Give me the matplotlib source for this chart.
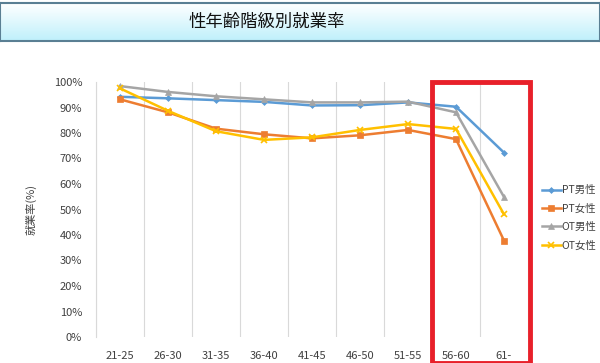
import matplotlib.pyplot as plt
import numpy as np
from matplotlib.patches import Rectangle

plt.rcParams['font.family'] = ['Noto Sans CJK JP', 'DejaVu Sans']

# 年齢階級
ages = ['21-25', '26-30', '31-35', '36-40', '41-45', '46-50', '51-55', '56-60', '61-']
# 就業率 (%)
pt_male = [94.2, 93.6, 92.9, 92.2, 90.8, 90.9, 92.0, 90.3, 72.3]
pt_female = [93.2, 88.1, 81.7, 79.5, 77.9, 79.1, 81.2, 77.6, 37.8]
ot_male = [98.4, 96.1, 94.4, 93.2, 92.0, 92.0, 92.3, 88.1, 54.9]
ot_female = [97.5, 88.7, 80.7, 77.3, 78.3, 81.2, 83.5, 81.6, 48.1]

series = [
    ('PT男性', pt_male, '#5B9BD5', 'D', 3),
    ('PT女性', pt_female, '#ED7D31', 's', 4),
    ('OT男性', ot_male, '#A5A5A5', '^', 4),
    ('OT女性', ot_female, '#FFC000', 'x', 4),
]

fig = plt.figure(figsize=(6, 3.63), dpi=100)

# タイトルの帯
tax = fig.add_axes([0, 1 - 41 / 363, 1, 38 / 363])
grad = np.linspace(0, 1, 50).reshape(-1, 1)
tax.imshow(grad, aspect='auto', cmap=plt.matplotlib.colors.LinearSegmentedColormap.from_list(
    'g', ['#ffffff', '#bff0fb']), extent=[0, 1, 0, 1])
tax.set_xlim(0, 1)
tax.set_ylim(0, 1)
tax.set_xticks([])
tax.set_yticks([])
for s in tax.spines.values():
    s.set_color('#5a7f93')
    s.set_linewidth(1.5)
tax.text(267 / 600, 0.5, '性年齢階級別就業率', ha='center', va='center', fontsize=12.5, color='#111111')

ax = fig.add_axes([96 / 600, 26 / 363, 432 / 600, 255 / 363])
x = np.arange(len(ages))
for name, vals, c, m, ms in series:
    ax.plot(x, np.array(vals) / 100, color=c, marker=m, markersize=ms, linewidth=1.8,
            label=name, markeredgewidth=1.2 if m == 'x' else 0.5)

ax.set_xlim(-0.5, len(ages) - 0.5)
ax.set_ylim(0, 1.0)
ax.set_yticks(np.arange(0, 1.01, 0.1))
ax.set_yticklabels([f'{int(round(v * 100))}%' for v in np.arange(0, 1.01, 0.1)])
ax.set_xticks(x)
ax.set_xticklabels(ages)
ax.set_xticks(np.arange(-0.5, len(ages), 1), minor=True)
ax.grid(axis='x', which='minor', color='#d9d9d9', linewidth=0.8)
ax.tick_params(axis='both', which='both', length=0, labelsize=8, colors='#404040')
ax.tick_params(axis='x', pad=10)
ax.tick_params(axis='y', pad=10)
for k in ['top', 'right', 'bottom']:
    ax.spines[k].set_visible(False)
ax.spines['left'].set_color('#d9d9d9')
ax.set_ylabel('就業率(%)', fontsize=8, color='#404040', labelpad=12)

ax.legend(loc='center left', bbox_to_anchor=(542 / 432 - 96 / 432, 0.467), frameon=False, fontsize=7.5,
          handlelength=1.8, handletextpad=0.1, labelspacing=0.8, labelcolor='#404040',
          borderpad=0, borderaxespad=0)

# 56-60, 61- を囲む赤枠
fig.add_artist(Rectangle((432 / 600, 0.5 / 363), 98 / 600, 281 / 363, transform=fig.transFigure,
                         fill=False, edgecolor='#e8202a', linewidth=3.5))

fig.savefig('out.png', dpi=100)
